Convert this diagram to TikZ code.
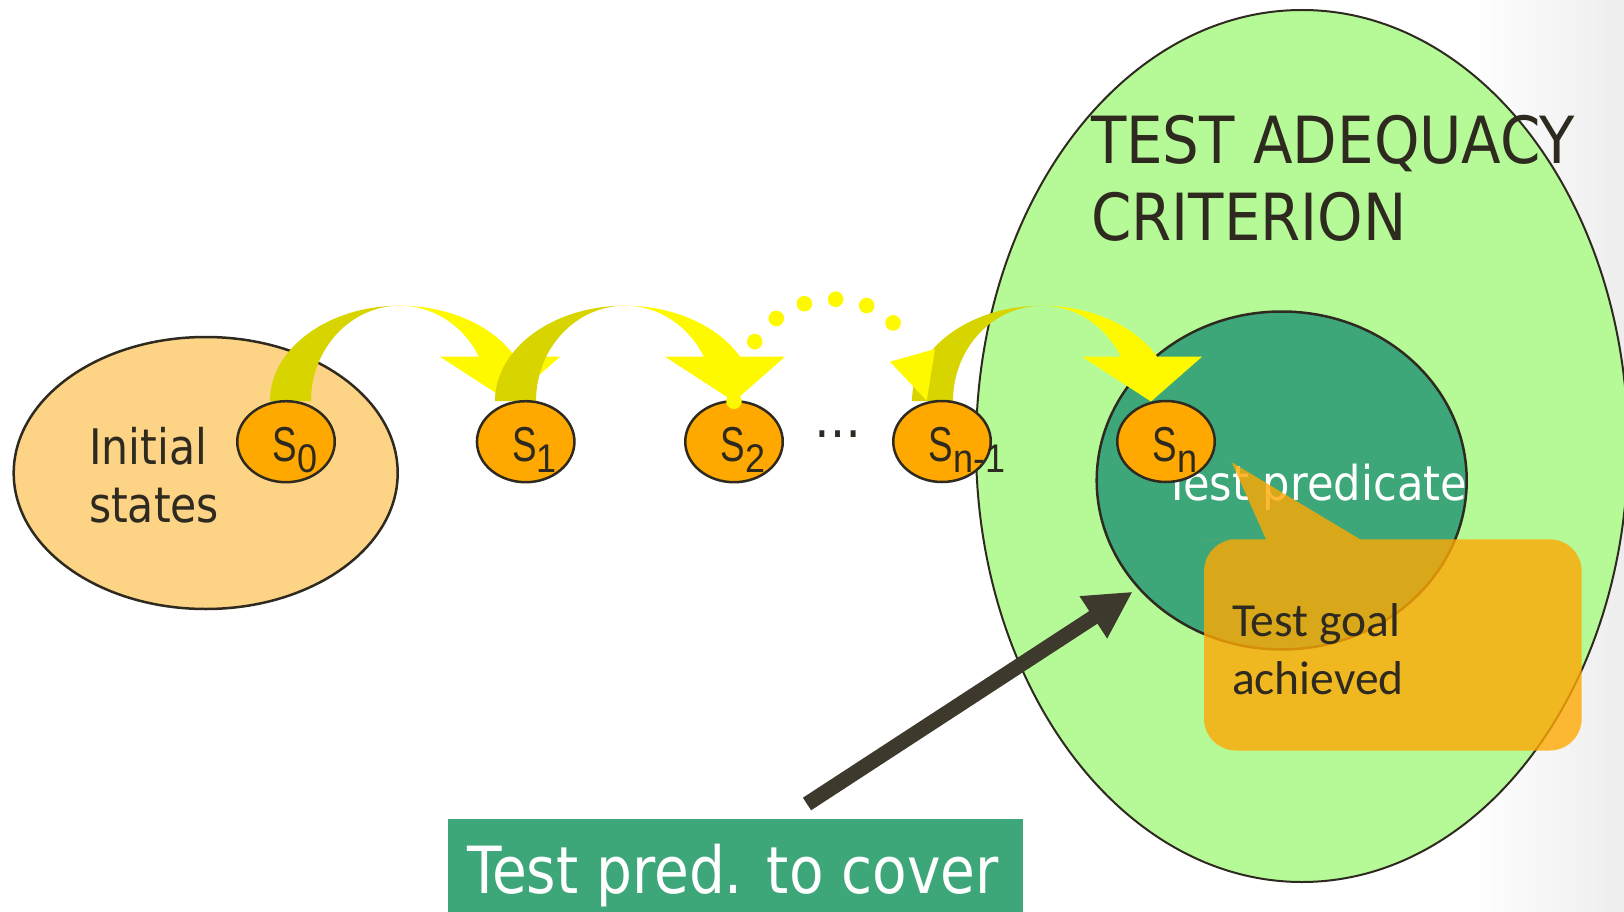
\documentclass[tikz,border=0pt]{standalone}
\usepackage{fontspec}
\setmainfont{DejaVu Sans}
\newfontfamily\titlefont[FakeStretch=0.89]{DejaVu Sans}
\newfontfamily\bodyfont[FakeStretch=0.87]{DejaVu Sans}
\newfontfamily\predfont[FakeStretch=0.9]{DejaVu Sans}
\newfontfamily\statefont[FakeStretch=0.75]{Liberation Sans}
\newfontfamily\subfont[FakeStretch=0.9]{Liberation Sans}
\newfontfamily\goalfont{Carlito}
\usetikzlibrary{arrows.meta,shapes.geometric,decorations.markings,calc}

\definecolor{ink}{HTML}{2E2A20}
\definecolor{arrowink}{HTML}{3D392D}
\definecolor{initfill}{HTML}{FDD385}
\definecolor{critfill}{HTML}{B5FA96}
\definecolor{predfill}{HTML}{3DA77A}
\definecolor{sfill}{HTML}{FFA800}
\definecolor{hopback}{HTML}{D8D400}
\definecolor{hopfront}{HTML}{FFF900}
\definecolor{notefill}{HTML}{FFA803}

% state name with a lowered subscript
\newcommand\stname[1]{{\statefont\fontsize{49}{49}\selectfont S}\raisebox{-11pt}{\subfont\fontsize{40}{40}\selectfont #1}}

\begin{document}
\begin{tikzpicture}[x=1pt,y=-1pt,
  region/.style={ellipse, draw=ink, line width=2.5, inner sep=0, outer sep=0},
  stnode/.style={ellipse, draw=ink, line width=2.5, fill=sfill,
    minimum width=97.5, minimum height=81, inner sep=0, outer sep=0},
  stlabel/.style={anchor=base west, inner sep=0, text=ink},
  plain/.style={inner sep=0, outer sep=0},
  pointer/.style={draw=arrowink, line width=15,
    -{Triangle[length=47pt,width=47pt]}},
  hop/.pic={
    % back face of the bent arrow (rising part)
    \fill[hopback] (-130,0)
      arc[start angle=180,end angle=270,x radius=130,y radius=95.3]
      arc[start angle=270,end angle=180,x radius=89,y radius=95.3] -- cycle;
    % front face with the head
    \fill[hopfront] (0,-95.3)
      arc[start angle=270,end angle=332.3,x radius=130,y radius=95.3]
      -- (160,-44.3) -- (109,0.5) -- (40,-44.3) -- (78.8,-44.3)
      arc[start angle=332.3,end angle=270,x radius=89,y radius=95.3] -- cycle;
  }]

\useasboundingbox (0,0) rectangle (1624,912);
\fill[white] (0,0) rectangle (1624,912);
\shade[left color=white, right color=black!7] (1470,0) rectangle (1624,912);

% initial states
\node[region, fill=initfill, minimum width=384, minimum height=272] (init) at (205.7,473) {};
\node[plain, anchor=base west, text=ink] (inittxt) at (89,464)
  {\bodyfont\fontsize{49}{58}\selectfont\begin{tabular}[t]{@{}l@{}}Initial\\states\end{tabular}};

% adequacy criterion
\node[region, line width=2, fill=critfill, minimum width=652, minimum height=872] (crit) at (1302,446) {};
\node[plain, anchor=base west, text=ink] (crittxt) at (1091,164)
  {\titlefont\fontsize{65}{76.7}\selectfont\begin{tabular}[t]{@{}l@{}}TEST ADEQUACY\\CRITERION\end{tabular}};

% test predicate
\node[region, fill=predfill, minimum width=370, minimum height=338] (pred) at (1281.7,480.5) {};
\node[plain, anchor=base east, text=white] (predtxt) at (1467,500)
  {\predfont\fontsize{48}{48}\selectfont Test predicate};

% transitions
\pic at (400,401) {hop};
\pic at (625,401) {hop};
\pic at (1042,401) {hop};

% states
\node[stnode] (s0) at (286,441.7) {};
\node[stnode] (s1) at (525.7,441.7) {};
\node[stnode] (s2) at (734,441.7) {};
\node[stnode] (sn1) at (942,441.5) {};
\node[stnode] (sn) at (1166,441.5) {};
\node[stlabel] at ($(s0.center)+(-13.5,20)$) {\stname{0}};
\node[stlabel] at ($(s1.center)+(-13.5,20)$) {\stname{1}};
\node[stlabel] at ($(s2.center)+(-13.5,20)$) {\stname{2}};
\node[stlabel] at ($(sn1.center)+(-13.5,20)$) {\stname{n-1}};
\node[stlabel] at ($(sn.center)+(-13.5,20)$) {\stname{n}};

\node[plain, anchor=base, text=ink] (gap) at (837.5,437)
  {\bodyfont\fontsize{54}{54}\selectfont …};

% dotted path of skipped steps
\coordinate (dotend) at (909,350);
\path[decorate, decoration={markings,
    mark=between positions 0 and 1 step 0.125 with {\fill[hopfront] (0,0) circle[radius=7.8pt];}}]
  (s2.north) .. controls (750,272) and (888,278) .. (dotend);
\fill[hopfront] (890,361.7) -- (935,349) -- (926.7,400.7) -- cycle;

% goal callout
\fill[notefill, opacity=0.8] (1266,539.3) -- (1231.7,462.3) -- (1360,539.3) -- (1420,539.3)
  [rounded corners=32] -- (1581.7,539.3) -- (1581.7,750.5) -- (1204,750.5) -- (1204,539.3)
  -- (1235,539.3) [sharp corners] -- cycle;
\node[plain, anchor=base west, text=ink] (goal) at (1232,636)
  {\goalfont\fontsize{47.5}{58}\selectfont\begin{tabular}[t]{@{}l@{}}Test goal\\achieved\end{tabular}};

% predicate to cover
\node[plain, fill=predfill, minimum width=575, minimum height=100, anchor=north west] (cover) at (447.5,819.2) {};
\node[plain, anchor=base west, text=white] (covertxt) at (467,893.3)
  {\bodyfont\fontsize{65}{65}\selectfont Test pred. to cover};
\coordinate (ptail) at (807,804);
\coordinate (ptip) at (1132.7,591.7);
\draw[pointer] (ptail) -- (ptip);

\end{tikzpicture}
\end{document}
